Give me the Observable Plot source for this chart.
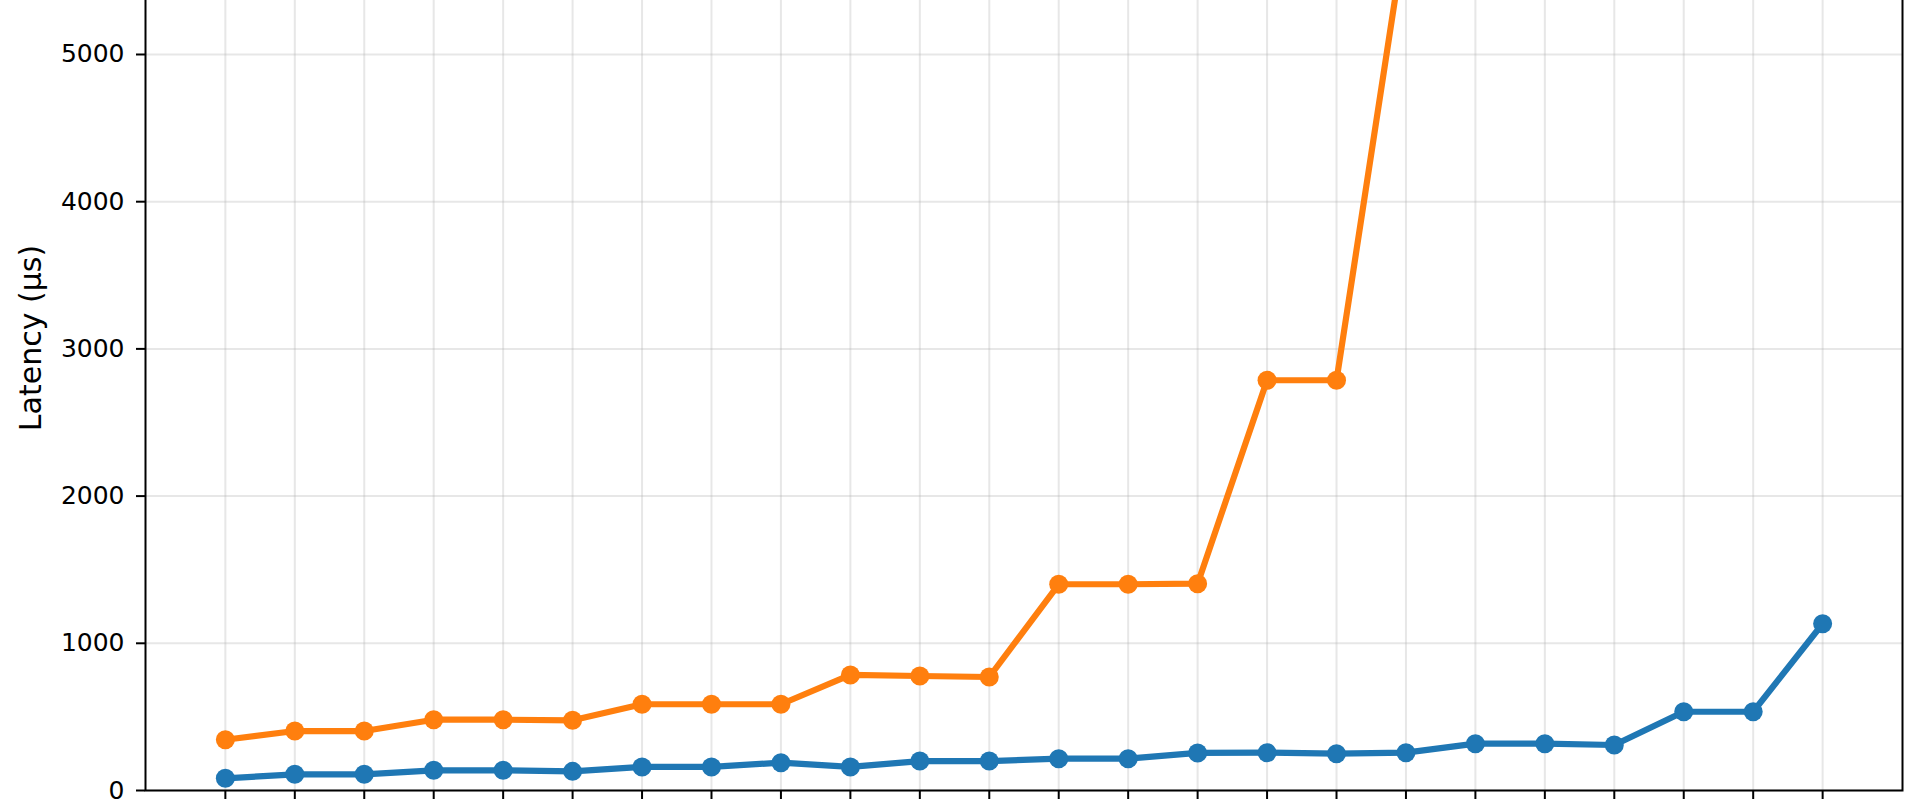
<!DOCTYPE html>
<html>
<head>
<meta charset="utf-8">
<script src="https://cdn.jsdelivr.net/npm/d3@7"></script>
<script src="https://cdn.jsdelivr.net/npm/@observablehq/plot@0.6"></script>
<style>
  html, body { margin: 0; padding: 0; background: #fff; overflow: hidden; width: 1920px; height: 800px; }
  #chart { position: absolute; left: 0; top: -135.5px; }
  #chart svg { font-family: "DejaVu Sans", sans-serif; }
  #chart [aria-label="y-axis label"] { font-size: 30px; }
</style>
</head>
<body>
<div id="chart"></div>
<script>
// x positions (tick labels are outside the visible picture)
const xIndex = [0, 1, 2, 3, 4, 5, 6, 7, 8, 9, 10, 11, 12, 13, 14, 15, 16, 17, 18, 19, 20, 21, 22, 23];
// blue series latency (µs)
const blueValues = [83, 110, 110, 137, 137, 130, 160, 160, 189, 160, 200, 200, 216, 216, 255, 257, 250, 257, 318, 318, 309, 535, 535, 1133];
// orange series latency (µs)
const orangeValues = [345, 404, 404, 481, 481, 477, 586, 586, 586, 785, 778, 771, 1401, 1401, 1405, 2787, 2787, 5860];
const yTicks = [0, 1000, 2000, 3000, 4000, 5000];
const yLabel = "Latency (μs)";

const blue = blueValues.map((v, i) => ({x: xIndex[i], y: v}));
const orange = orangeValues.map((v, i) => ({x: xIndex[i], y: v}));

const C0 = "#1f77b4", C1 = "#ff7f0e";

const chart = Plot.plot({
  width: 1920,
  height: 965,
  marginLeft: 145,
  marginRight: 18,
  marginTop: 20,
  marginBottom: 40,
  style: {fontFamily: "DejaVu Sans, sans-serif", color: "#000", background: "#fff"},
  x: {domain: [-1.15, 24.15]},
  y: {domain: [0, 6148]},
  marks: [
    Plot.gridX(xIndex, {stroke: "#b0b0b0", strokeOpacity: 0.3, strokeWidth: 2}),
    Plot.gridY(yTicks, {stroke: "#b0b0b0", strokeOpacity: 0.3, strokeWidth: 2}),
    Plot.line(blue, {x: "x", y: "y", stroke: C0, strokeWidth: 6.2}),
    Plot.dot(blue, {x: "x", y: "y", r: 9.5, fill: C0, stroke: null}),
    Plot.line(orange, {x: "x", y: "y", stroke: C1, strokeWidth: 6.2}),
    Plot.dot(orange, {x: "x", y: "y", r: 9.5, fill: C1, stroke: null}),
    Plot.axisX({ticks: xIndex, tickSize: 9, strokeWidth: 2, tickFormat: () => "", label: null, stroke: "#000"}),
    Plot.axisY({ticks: yTicks, tickSize: 9, tickPadding: 12, strokeWidth: 2, fontSize: 25,
      tickFormat: d => String(d), label: yLabel, labelAnchor: "center", labelArrow: "none", labelOffset: 126, stroke: "#000", fill: "#000"}),
    Plot.frame({stroke: "#000", strokeWidth: 2})
  ]
});
chart.querySelectorAll('[aria-label="x-axis tick label"]').forEach(e => e.remove());
document.getElementById("chart").appendChild(chart);
</script>
</body>
</html>
